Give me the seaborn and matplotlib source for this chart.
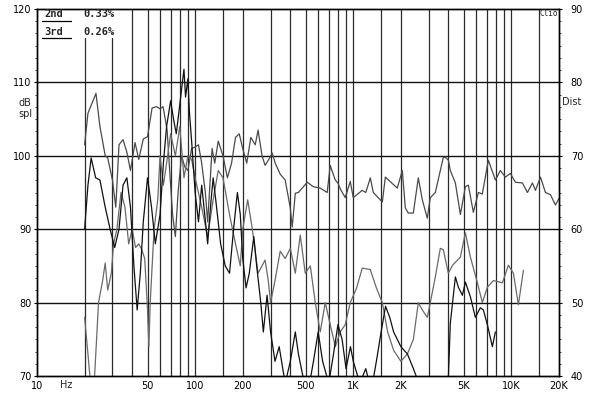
import numpy as np
import pandas as pd
import matplotlib
matplotlib.use("Agg")
import matplotlib.pyplot as plt
import seaborn as sns
from matplotlib.ticker import FixedLocator, AutoMinorLocator, NullFormatter, NullLocator
from matplotlib.patches import Rectangle
from matplotlib.lines import Line2D

# ---------------- data ----------------
resp_freq = [20, 21, 23.6, 25, 27, 28, 30, 31.5, 33, 35, 37, 39, 41.7, 44, 47, 50, 53.4, 57, 60, 62.7,
             66.5, 69.5, 72, 75, 78, 82, 86, 90, 95, 100, 105, 110, 116, 120, 124, 128, 133, 140, 150,
             160, 170, 180, 190, 200, 212, 225, 240, 250, 265, 277, 298, 307, 321, 345, 371, 399, 411,
             430, 449, 480, 512, 558, 618, 684, 715, 769, 800, 827, 890, 957, 1000, 1140, 1200, 1282,
             1339, 1527, 1595, 1898, 2043, 2134, 2229, 2398, 2578, 2733, 2939, 3070, 3303, 3712, 3823,
             3993, 4109, 4423, 4757, 5117, 5343, 5747, 6182, 6548, 7148, 7918, 8518, 9162, 9855, 10600,
             11740, 12630, 13580, 14190, 15270, 16420, 17660, 18990, 20000]
resp_db = [101.5, 105.8, 108.5, 104, 100, 99.7, 96.7, 93, 101.5, 102.2, 100.5, 98, 101.8, 99.5, 102.3,
           102.6, 106.5, 106.7, 106.4, 106.7, 103.5, 97, 92, 89, 95, 100, 98.5, 98, 101, 101.2, 101.5,
           99, 95, 91, 96, 101, 99, 102, 100, 97, 99, 102.5, 103, 101, 99, 102.5, 101.5, 103.5, 100,
           98.7, 99.8, 100.4, 99, 97.5, 96.7, 93, 90.3, 94.9, 95, 95.7, 96.4, 95.8, 95.6, 95, 98.7,
           96.7, 96.3, 95.5, 94.3, 96.5, 94.3, 95.3, 95.0, 97, 95, 93.7, 97.1, 95.6, 98, 92.9, 92.2,
           92.2, 97, 94, 91.5, 94.3, 95, 99.8, 99.8, 99.4, 98, 96.3, 92, 95.8, 96, 92.3, 95, 94.8,
           99.4, 96.7, 98, 97.1, 97.6, 96.4, 96.3, 95, 96.3, 95.3, 97.1, 95, 94.7, 93.3, 94.2]

h2_freq = [20, 21, 22, 23, 24.5, 26, 27, 28, 29.5, 30.5, 32, 34, 36, 38, 40, 42, 44, 46, 48, 50, 51,
           52, 55, 58, 60, 63, 66, 70, 75, 80, 85, 90, 95, 100, 110, 120, 130, 140, 150, 165, 180,
           193, 200, 215, 230, 250, 277, 290, 300, 320, 345, 371, 400, 430, 462, 497, 535, 575, 618,
           665, 715, 770, 827, 890, 957, 1050, 1140, 1282, 1400, 1527, 1650, 1800, 2000, 2200, 2400,
           2578, 2733, 2939, 3070, 3303, 3553, 3712, 3993, 4250, 4757, 5117, 5504, 6095, 6548, 7047,
           7691, 8770, 9574, 10300, 11070, 11910]
h2_dist = [48, 43, 38, 39, 50, 53, 55.4, 51.7, 54, 58, 60, 65, 63, 58, 60, 57.5, 58, 57.2, 56, 49, 44,
           50, 60, 64, 70, 66, 69, 73, 70, 74, 67, 70, 69.5, 67, 63, 59, 64, 68, 67, 62, 58, 55, 60,
           64, 60, 54, 55.8, 53, 50, 53, 57, 56, 57.4, 54, 59.2, 54, 55, 50, 46, 50, 47, 44, 46, 47,
           50, 52, 54.7, 54.5, 52, 50, 46, 43.5, 42, 43, 45, 50, 49, 48, 50, 53.5, 57.4, 57.2, 54,
           55.1, 56.2, 59.5, 56.2, 52.7, 50, 52.1, 53, 52.7, 55.1, 54, 49.7, 54.4]

h3_freq = [20, 21, 22, 23.5, 25, 27, 29, 31, 33, 35, 37, 39, 41, 43, 45, 47, 50, 53, 56, 60, 63, 66,
           70, 73, 76, 80, 85, 87, 90, 92, 95, 100, 105, 110, 115, 120, 125, 130, 135, 145, 155, 165,
           175, 185, 193, 200, 210, 220, 235, 245, 260, 270, 285, 300, 320, 340, 371, 400, 430, 450,
           480, 520, 560, 600, 640, 700, 750, 800, 850, 900, 960, 1000, 1100, 1200, 1300, 1400, 1500,
           1600, 1700, 1800, 2000, 2200, 2400, 2600, 2800, 3000, 3300, 3600, 3936, 4109, 4423, 4620,
           4898, 5117, 5504, 5916, 6363, 6650, 7047, 7580, 7918]
h3_dist = [60, 66, 69.7, 67, 66.7, 63, 60, 57.5, 60, 66, 67, 63, 55, 49, 54, 61, 67, 63, 58, 62, 69,
           74, 77.5, 75, 73, 77, 81.8, 78, 80.5, 76, 72, 65, 61, 66, 62, 58, 63, 67, 64, 58, 55, 54,
           60, 65, 62, 56, 52, 54, 59, 55, 50, 46, 51, 46, 42, 44, 39, 42, 46, 43, 40, 38, 42, 46,
           42, 39, 43, 47, 45, 41, 44, 42, 39, 41, 38, 42, 46, 49.5, 48, 46, 44, 43, 41, 39, 37, 36,
           38, 36, 36, 47.2, 53.5, 52.1, 51, 52.8, 50.8, 48, 49.3, 49, 47, 44, 46]

legend_rows = [("2nd", "0.33%"), ("3rd", "0.26%")]
x_tick_vals = [10, 50, 100, 200, 500, 1000, 2000, 5000, 10000, 20000]
x_tick_labels = ["10", "50", "100", "200", "500", "1K", "2K", "5K", "10K", "20K"]
grid_freqs = [20, 30, 40, 50, 60, 70, 80, 90, 100, 150, 200, 300, 400, 500, 600, 700, 800, 900,
              1000, 1500, 2000, 3000, 4000, 5000, 6000, 7000, 8000, 9000, 10000, 15000]
spl_ticks = [70, 80, 90, 100, 110, 120]
dist_ticks = [40, 50, 60, 70, 80, 90]

# ---------------- figure ----------------
sns.set_style("white")
plt.rcParams["font.family"] = ["DejaVu Sans"]
W, H = 600, 396
fig = plt.figure(figsize=(W / 100, H / 100), dpi=100)
fig.patch.set_facecolor("white")
ax = fig.add_axes([37 / W, 20 / H, 522 / W, 367 / H])
ax.set_xscale("log")
ax.set_xlim(10, 20000)
ax.set_ylim(70, 120)

# grid
for f in grid_freqs:
    ax.axvline(f, color="#2a2a2a", lw=0.9, zorder=1)
for v in spl_ticks[1:-1]:
    ax.axhline(v, color="#111111", lw=1.0, zorder=1)

# legend box covering the grid
ax.add_patch(Rectangle((0, 0.921), 0.168, 0.079, transform=ax.transAxes,
                       facecolor="white", edgecolor="none", zorder=2))

resp_df = pd.DataFrame({"freq": resp_freq, "db": resp_db})
sns.lineplot(data=resp_df, x="freq", y="db", ax=ax, color="#4a4a4a", lw=0.9,
             estimator=None, sort=False, zorder=3)

ax2 = ax.twinx()
ax2.set_ylim(40, 90)
h2_df = pd.DataFrame({"freq": h2_freq, "dist": h2_dist})
h3_df = pd.DataFrame({"freq": h3_freq, "dist": h3_dist})
sns.lineplot(data=h2_df, x="freq", y="dist", ax=ax2, color="#6a6a6a", lw=0.9,
             estimator=None, sort=False)
sns.lineplot(data=h3_df, x="freq", y="dist", ax=ax2, color="#111111", lw=0.9,
             estimator=None, sort=False)

for a in (ax, ax2):
    a.set_xlabel("")
    a.set_ylabel("")
    for s in a.spines.values():
        s.set_color("black")
        s.set_linewidth(1.0)

fs = 7
ax.xaxis.set_major_locator(FixedLocator(x_tick_vals))
ax.set_xticklabels(x_tick_labels)
ax.xaxis.set_minor_locator(NullLocator())
ax.tick_params(axis="x", which="major", direction="out", length=2, width=0.8,
               labelsize=fs, pad=1.5, colors="black")
ax.set_yticks(spl_ticks)
ax.yaxis.set_minor_locator(AutoMinorLocator(6))
ax.tick_params(axis="y", which="major", direction="out", length=2.5, width=0.8,
               labelsize=fs, pad=1.5, left=True, colors="black")
ax.tick_params(axis="y", which="minor", direction="out", length=1.5, width=0.6, left=True)
ax2.set_yticks(dist_ticks)
ax2.yaxis.set_minor_locator(AutoMinorLocator(6))
ax2.tick_params(axis="y", which="major", direction="out", length=2.5, width=0.8,
                labelsize=fs, pad=6, right=True, colors="black")
ax2.tick_params(axis="y", which="minor", direction="out", length=1.5, width=0.6, right=True)

# axis texts
ax.text(15.3, -0.012, "Hz", transform=ax.get_xaxis_transform(), ha="center", va="top",
        fontsize=fs)
fig.text(25 / W, 1 - 103 / H, "dB", ha="center", va="center", fontsize=fs)
fig.text(25 / W, 1 - 114 / H, "spl", ha="center", va="center", fontsize=fs)
fig.text(572 / W, 1 - 102 / H, "Dist", ha="center", va="center", fontsize=fs)
fig.text(549 / W, 1 - 14 / H, "Clio", ha="center", va="center", fontsize=5.5,
         family="DejaVu Sans Mono")

# legend-like header
mono = "DejaVu Sans Mono"
for i, (name, val) in enumerate(legend_rows):
    yy = 1 - (14 + 18 * i) / H
    fig.text(44 / W, yy, name, ha="left", va="center", fontsize=7.5, fontweight="bold",
             family=mono)
    fig.text(83 / W, yy, val, ha="left", va="center", fontsize=7.5, fontweight="bold",
             family=mono)
    uy = 1 - (21 + 17 * i) / H
    fig.add_artist(Line2D([42 / W, 71 / W], [uy, uy], color="black", lw=0.9,
                          transform=fig.transFigure))

fig.savefig("out.png", dpi=100, facecolor="white")
